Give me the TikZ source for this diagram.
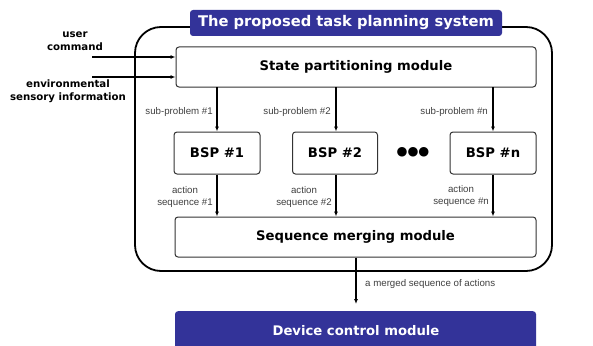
\documentclass[tikz,border=0pt]{standalone}
\usepackage{fontspec}
\setmainfont{DejaVu Sans}
\newfontfamily\lab{Liberation Sans}
\usetikzlibrary{arrows.meta}
\definecolor{navy}{RGB}{51,51,153}
\tikzset{
  box/.style={draw=black!80, line width=1pt, rounded corners=3pt, fill=white},
  bigtxt/.style={font=\bfseries\fontsize{13.2}{15}\selectfont},
  lbl/.style={font=\lab\fontsize{9.7}{11.5}\selectfont, text=black!75, align=center, inner sep=0pt},
  arr/.style={line width=1.2pt, -{Latex[length=5pt,width=4pt]}},
  blue/.style={fill=navy, rounded corners=3pt, text=white}
}
\begin{document}
\begin{tikzpicture}[x=1pt,y=-1pt]
\clip (0,0) rectangle (593,345);
\fill[white] (0,0) rectangle (593,345);
% outer system box
\draw[line width=1.8pt, rounded corners=26pt] (135,27) rectangle (552,271);
\node[blue, font=\bfseries\fontsize{14.7}{16}\selectfont, minimum width=312pt, minimum height=26pt, inner sep=0pt] (title) at (346,23) {The proposed task planning system};
% modules
\node[box, bigtxt, minimum width=360pt, minimum height=40pt, inner sep=0pt] (spm) at (356,67) {State partitioning module};
\node[box, bigtxt, minimum width=86pt, minimum height=42pt, inner sep=0pt] (b1) at (217,153) {BSP \#1};
\node[box, bigtxt, minimum width=85pt, minimum height=42pt, inner sep=0pt] (b2) at (335,153) {BSP \#2};
\node[box, bigtxt, minimum width=86pt, minimum height=42pt, inner sep=0pt] (bn) at (493,153) {BSP \#n};
\node[font=\fontsize{12.5}{12.5}\selectfont, inner sep=0pt] (dots) at (413,152) {●●●};
\node[box, bigtxt, minimum width=361pt, minimum height=40pt, inner sep=0pt] (smm) at (355.5,237) {Sequence merging module};
\node[blue, minimum width=361pt, minimum height=44pt, inner sep=0pt, anchor=north] (dcm) at (355.5,311) {};
\node[text=white, font=\bfseries\fontsize{13.2}{15}\selectfont] (dcmt) at (356,331) {Device control module};
% inputs
\node[font=\bfseries\fontsize{10.2}{13.5}\selectfont, align=center, inner sep=0pt] (uc) at (75,41) {user\\command};
\node[font=\bfseries\fontsize{10.2}{13.5}\selectfont, align=center, inner sep=0pt] (env) at (68,91) {environmental\\sensory information};
\coordinate (ucs) at (92,57);
\coordinate (envs) at (92,77);
\draw[arr] (ucs) -- (spm.west |- ucs);
\draw[arr] (envs) -- (spm.west |- envs);
% sub-problem arrows
\coordinate (s1) at (217,87);
\coordinate (s2) at (336,87);
\coordinate (sn) at (493,87);
\draw[arr] (s1) -- (b1.north);
\draw[arr] (s2) -- (b2.north -| s2);
\draw[arr] (sn) -- (bn.north);
\node[lbl, anchor=east] (l1) at (213,112) {sub-problem \#1};
\node[lbl, anchor=east] (l2) at (331,112) {sub-problem \#2};
\node[lbl, anchor=east] (ln) at (488,112) {sub-problem \#n};
% action arrows
\draw[arr] (b1.south) -- (smm.north -| b1.south);
\draw[arr] (b2.south -| s2) -- (smm.north -| s2);
\draw[arr] (bn.south) -- (smm.north -| bn.south);
\node[lbl, anchor=east, align=center] (a1) at (213,197) {action\\sequence \#1};
\node[lbl, anchor=east, align=center] (a2) at (332,197) {action\\sequence \#2};
\node[lbl, anchor=east, align=center] (an) at (489,196) {action\\sequence \#n};
% merged
\coordinate (me) at (356,304);
\draw[arr] (smm.south -| me) -- (me);
\node[lbl, anchor=west] (ml) at (365,284) {a merged sequence of actions};
\end{tikzpicture}
\end{document}
